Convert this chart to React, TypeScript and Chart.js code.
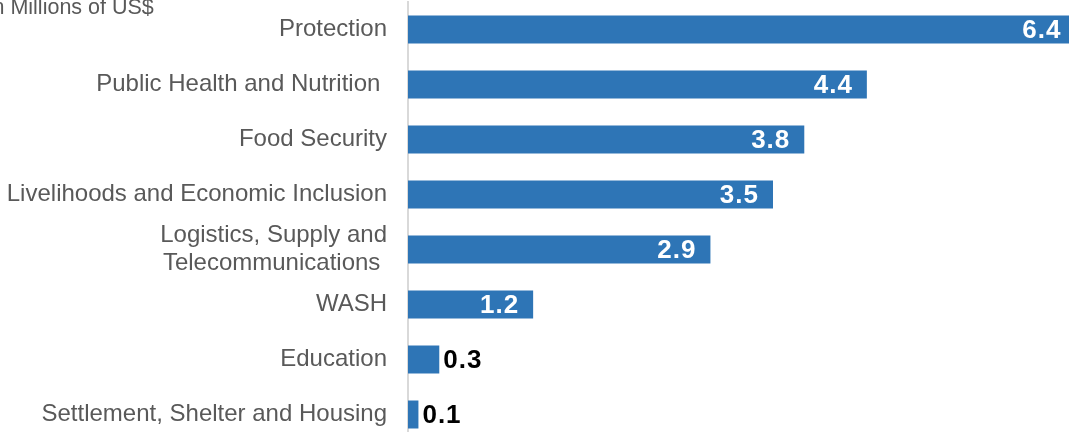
import React, { useEffect, useRef } from "react";
import { Chart, registerables } from "chart.js";

Chart.register(...registerables);

const categories: (string | string[])[] = [
  "Protection",
  "Public Health and Nutrition ",
  "Food Security",
  "Livelihoods and Economic Inclusion",
  ["Logistics, Supply and", "Telecommunications "],
  "WASH",
  "Education",
  "Settlement, Shelter and Housing",
];
const values: number[] = [6.4, 4.4, 3.8, 3.5, 2.9, 1.2, 0.3, 0.1];
const unitTitle = "In Millions of US$";
const xMax = 7;

const BAR_COLOR = "#2E75B6";
const TEXT_GREY = "#595959";
const FONT = "'Liberation Sans', Arial, sans-serif";

const valueLabelPlugin = {
  id: "valueLabels",
  afterDatasetsDraw(chart: any) {
    const ctx = chart.ctx;
    const meta = chart.getDatasetMeta(0);
    const data = chart.data.datasets[0].data as number[];
    ctx.save();
    ctx.font = `bold 26px ${FONT}`;
    try { (ctx as any).letterSpacing = "1px"; } catch (e) {}
    ctx.textBaseline = "middle";
    meta.data.forEach((bar: any, i: number) => {
      const v = data[i];
      const txt = v.toFixed(1);
      if (v >= 1) {
        ctx.fillStyle = "#ffffff";
        ctx.textAlign = "right";
        ctx.fillText(txt, bar.x - 14, bar.y + 1);
      } else {
        ctx.fillStyle = "#000000";
        ctx.textAlign = "left";
        ctx.fillText(txt, bar.x + 4, bar.y + 1);
      }
    });
    ctx.restore();
  },
  afterDraw(chart: any) {
    const ctx = chart.ctx;
    ctx.save();
    ctx.font = `21.5px ${FONT}`;
    ctx.fillStyle = TEXT_GREY;
    ctx.textAlign = "left";
    ctx.textBaseline = "alphabetic";
    ctx.fillText(unitTitle, -13.5, 13.5);
    ctx.restore();
  },
};

export default function App() {
  const canvasRef = useRef<HTMLCanvasElement | null>(null);

  useEffect(() => {
    if (!canvasRef.current) return;
    const chart = new Chart(canvasRef.current, {
      type: "bar",
      data: {
        labels: categories,
        datasets: [
          {
            data: values,
            backgroundColor: BAR_COLOR,
            borderWidth: 0,
            categoryPercentage: 1,
            barPercentage: 28 / 55,
          },
        ],
      },
      options: {
        indexAxis: "y",
        animation: false,
        responsive: false,
        maintainAspectRatio: false,
        layout: { padding: { top: 2, left: 0, right: 0, bottom: 0 } },
        plugins: {
          legend: { display: false },
          tooltip: { enabled: false },
          title: { display: false },
        },
        scales: {
          x: {
            display: false,
            min: 0,
            max: xMax,
          },
          y: {
            grid: { display: false, drawTicks: false },
            border: { display: true, color: "#d9d9d9", width: 2 },
            ticks: {
              autoSkip: false,
              color: TEXT_GREY,
              padding: 21,
              font: { family: FONT, size: 24, lineHeight: 1.18 },
            },
            afterFit(scale: any) {
              scale.width = 408;
              scale.paddingTop = 0;
              scale.paddingBottom = 0;
            },
          },
        },
      } as any,
      plugins: [valueLabelPlugin],
    });
    return () => chart.destroy();
  }, []);

  return (
    <div
      style={{
        position: "fixed",
        left: 0,
        top: 0,
        width: 1069,
        height: 432,
        overflow: "hidden",
        background: "#ffffff",
      }}
    >
      <canvas
        ref={canvasRef}
        width={1138}
        height={442}
        style={{ display: "block", width: 1138, height: 442 }}
      />
    </div>
  );
}
